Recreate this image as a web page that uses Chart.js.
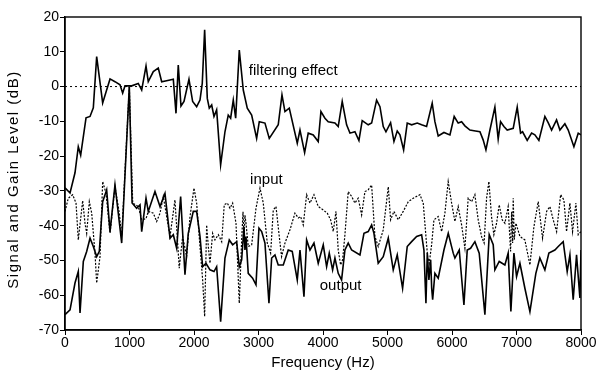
<!DOCTYPE html>
<html>
<head>
<meta charset="utf-8">
<script src="https://cdn.jsdelivr.net/npm/chart.js@4/dist/chart.umd.min.js"></script>
<style>
  body { margin: 0; background: #fff; }
  #chart { display: block; }
</style>
</head>
<body>
<canvas id="chart" width="603" height="374"></canvas>
<script>
// filtering effect (gain, dB) vs frequency (Hz)
const filterFreq = [0, 78, 155, 206, 243, 326, 388, 439, 491, 584, 698, 775, 853, 894, 930, 977, 1034, 1136, 1189, 1256, 1291, 1369, 1446, 1499, 1628, 1679, 1721, 1756, 1798, 1845, 1922, 1979, 2041, 2093, 2128, 2165, 2206, 2237, 2274, 2310, 2351, 2413, 2480, 2531, 2568, 2609, 2646, 2702, 2764, 2826, 2894, 2971, 3012, 3100, 3167, 3306, 3364, 3410, 3477, 3601, 3643, 3715, 3771, 3849, 3926, 3968, 4030, 4081, 4185, 4236, 4298, 4366, 4418, 4495, 4557, 4608, 4701, 4754, 4831, 4883, 4934, 4976, 5048, 5100, 5151, 5193, 5250, 5306, 5374, 5461, 5529, 5606, 5693, 5735, 5786, 5875, 5968, 6034, 6096, 6149, 6200, 6278, 6340, 6433, 6484, 6526, 6588, 6665, 6716, 6753, 6805, 6856, 6949, 7011, 7063, 7094, 7166, 7234, 7285, 7347, 7440, 7491, 7544, 7621, 7673, 7750, 7802, 7890, 7957, 8000];
const filterGain = [-29.1, -30.6, -24.8, -17.3, -19.7, -9.0, -8.6, -6.1, 8.6, -4.7, 2.2, 1.4, 0.5, -1.9, 0.2, 0.2, 0.2, 0.9, -1.0, 5.9, 1.4, 4.3, 5.3, 1.4, 1.9, 2.1, -7.7, 6.2, -5.6, -4.3, 2.1, -4.3, -5.8, -3.9, 0.9, 16.3, -3.4, -6.2, -5.3, -8.6, -6.7, -22.5, -13.0, -8.2, -9.1, -3.9, -9.1, 10.5, -1.0, -6.2, -8.2, -14.9, -10.1, -10.5, -14.9, -11.0, -2.4, -7.2, -6.2, -16.3, -12.5, -19.0, -13.4, -13.9, -15.8, -7.2, -9.1, -10.1, -10.5, -11.5, -4.3, -11.0, -13.4, -13.0, -15.5, -9.8, -11.0, -10.5, -3.9, -5.8, -11.5, -13.0, -10.4, -15.8, -12.8, -13.9, -18.2, -10.5, -11.0, -10.5, -11.0, -11.5, -4.8, -10.1, -14.2, -13.2, -13.9, -8.6, -10.5, -10.1, -11.3, -12.5, -12.7, -13.0, -15.4, -18.2, -12.5, -5.9, -15.1, -10.1, -11.5, -12.5, -12.0, -5.9, -13.4, -13.0, -15.5, -13.4, -13.9, -15.5, -8.6, -10.4, -12.5, -9.6, -12.5, -10.7, -12.5, -17.3, -13.4, -13.9];

// input signal level (dB)
const inputFreq = [0, 51, 119, 171, 206, 274, 310, 336, 377, 414, 465, 491, 543, 584, 636, 698, 775, 842, 879, 997, 1050, 1136, 1189, 1256, 1291, 1369, 1421, 1473, 1524, 1628, 1705, 1740, 1771, 1824, 1886, 1938, 2000, 2041, 2093, 2134, 2165, 2196, 2222, 2248, 2289, 2325, 2377, 2429, 2469, 2516, 2558, 2599, 2651, 2702, 2739, 2760, 2775, 2790, 2806, 2841, 2894, 2961, 3023, 3074, 3136, 3188, 3229, 3271, 3322, 3358, 3410, 3488, 3565, 3617, 3653, 3694, 3746, 3798, 3860, 3926, 4004, 4066, 4118, 4159, 4201, 4236, 4273, 4304, 4340, 4391, 4444, 4495, 4546, 4599, 4650, 4701, 4754, 4805, 4856, 4934, 5012, 5048, 5100, 5166, 5244, 5322, 5400, 5503, 5554, 5596, 5622, 5647, 5684, 5720, 5786, 5839, 5890, 5941, 5994, 6045, 6096, 6149, 6200, 6251, 6304, 6355, 6406, 6458, 6498, 6536, 6572, 6613, 6649, 6691, 6732, 6778, 6820, 6871, 6908, 6925, 6940, 6949, 6965, 6991, 7053, 7130, 7208, 7270, 7337, 7404, 7467, 7518, 7569, 7622, 7684, 7735, 7776, 7828, 7869, 7921, 7957, 8000];
const inputLevel = [-35.9, -32.1, -31.1, -33.5, -44.1, -32.8, -39.3, -42.2, -33.1, -36.4, -47.9, -56.5, -48.9, -27.3, -30.7, -42.2, -28.8, -36.4, -43.1, 0, -33.5, -34.5, -38.3, -38.0, -35.9, -36.4, -38.8, -36.4, -31.6, -43.1, -32.6, -43.1, -52.2, -43.1, -48.9, -37.4, -29.2, -33.5, -46.0, -55.6, -66.1, -39.8, -46.0, -50.8, -42.2, -44.1, -42.6, -44.6, -34.0, -33.5, -35.0, -33.5, -39.3, -62.3, -44.1, -36.0, -44.0, -37.0, -39.3, -46.0, -45.5, -35.0, -29.2, -33.5, -45.0, -47.9, -35.5, -34.5, -43.1, -48.9, -45.0, -41.2, -36.4, -37.8, -37.4, -39.8, -31.1, -33.5, -31.1, -34.5, -35.5, -36.4, -38.3, -41.7, -35.9, -47.0, -51.3, -49.8, -42.6, -30.2, -31.6, -33.5, -32.1, -36.9, -30.2, -29.7, -28.3, -43.1, -46.0, -41.2, -28.8, -38.3, -35.9, -38.3, -35.9, -33.1, -32.1, -31.1, -33.5, -43.1, -48.9, -50.8, -45.5, -38.3, -37.4, -41.7, -36.4, -27.3, -33.5, -38.8, -34.5, -39.8, -46.5, -32.1, -33.1, -31.1, -38.3, -43.1, -45.0, -32.1, -27.3, -37.4, -42.6, -39.3, -34.0, -38.3, -39.3, -34.5, -47.4, -36.0, -45.0, -32.1, -44.0, -39.3, -43.1, -44.1, -51.3, -40.3, -33.1, -43.6, -35.9, -34.5, -38.3, -41.7, -31.1, -32.6, -41.7, -33.5, -41.7, -33.5, -42.6, -41.7];

// output signal level (dB)
const outputFreq = [0, 78, 155, 206, 233, 284, 336, 388, 439, 491, 532, 584, 646, 698, 775, 826, 879, 997, 1040, 1111, 1163, 1189, 1256, 1291, 1395, 1473, 1550, 1628, 1679, 1731, 1793, 1860, 1911, 1989, 2041, 2093, 2134, 2186, 2248, 2310, 2351, 2413, 2480, 2547, 2599, 2661, 2702, 2739, 2775, 2790, 2806, 2841, 2909, 2961, 3007, 3049, 3100, 3162, 3204, 3255, 3306, 3384, 3461, 3523, 3601, 3643, 3705, 3746, 3798, 3860, 3926, 4004, 4056, 4097, 4149, 4185, 4236, 4288, 4340, 4391, 4444, 4573, 4635, 4701, 4754, 4790, 4856, 4934, 5012, 5089, 5151, 5234, 5306, 5374, 5452, 5529, 5565, 5596, 5617, 5642, 5669, 5685, 5700, 5735, 5786, 5875, 5942, 6019, 6045, 6112, 6185, 6236, 6288, 6355, 6422, 6510, 6577, 6639, 6665, 6732, 6820, 6871, 6913, 6960, 7001, 7053, 7130, 7208, 7300, 7362, 7440, 7502, 7595, 7647, 7724, 7786, 7828, 7879, 7931, 7983, 8000];
const outputLevel = [-65.6, -64.2, -56.5, -53.2, -65.1, -50.3, -47.4, -43.6, -46.0, -48.9, -47.4, -33.1, -29.7, -41.7, -28.3, -36.4, -45.0, 0, -33.5, -35.0, -34.0, -41.7, -32.1, -35.9, -30.2, -34.5, -30.7, -43.6, -42.6, -46.5, -31.6, -54.1, -42.2, -35.9, -35.9, -43.1, -51.8, -50.8, -52.7, -53.2, -51.8, -67.6, -49.3, -44.1, -45.5, -44.6, -51.8, -49.8, -40.3, -47.0, -43.1, -53.7, -55.1, -57.0, -40.7, -41.7, -45.0, -62.3, -49.3, -48.4, -51.3, -51.3, -47.0, -47.4, -55.6, -47.0, -60.4, -44.1, -47.0, -45.0, -50.8, -45.5, -51.8, -47.9, -52.7, -49.3, -53.7, -55.6, -47.0, -45.0, -47.0, -48.4, -42.2, -41.7, -39.8, -42.2, -50.8, -48.9, -43.6, -52.7, -48.4, -58.0, -46.0, -44.6, -43.1, -42.6, -47.0, -62.3, -47.9, -55.6, -49.8, -58.0, -61.3, -53.7, -55.1, -47.0, -42.2, -47.9, -49.3, -47.0, -62.8, -47.0, -46.5, -44.6, -47.9, -65.6, -42.6, -45.5, -52.7, -50.3, -51.3, -47.9, -64.7, -47.9, -54.6, -50.8, -58.0, -64.7, -53.7, -49.3, -52.7, -47.9, -47.0, -46.0, -44.6, -53.2, -48.4, -61.3, -48.4, -60.8, -47.0];

const zeroFreq = [0, 8000];
const zeroGain = [0, 0];

const xTicks = [0, 1000, 2000, 3000, 4000, 5000, 6000, 7000, 8000];
const yTicks = [20, 10, 0, -10, -20, -30, -40, -50, -60, -70];

const curveLabels = [
  { text: 'filtering effect', x: 2850, y: 4.5 },
  { text: 'input', x: 2870, y: -26.8 },
  { text: 'output', x: 3950, y: -57.3 },
];

const yTitle = 'Signal and Gain Level (dB)';

function toPoints(xs, ys) {
  return xs.map((x, i) => ({ x: x, y: ys[i] }));
}

const FONT = 'Liberation Sans, Arial, sans-serif';

// box round the plot, curve labels and the spaced-out y title
const framePlugin = {
  id: 'frame',
  afterDatasetsDraw(chart) {
    const { ctx, chartArea, scales } = chart;
    ctx.save();
    ctx.strokeStyle = '#000';
    ctx.lineWidth = 1.4;
    ctx.strokeRect(chartArea.left, chartArea.top, chartArea.right - chartArea.left, chartArea.bottom - chartArea.top);
    ctx.fillStyle = '#000';
    ctx.font = '15px ' + FONT;
    ctx.textBaseline = 'middle';
    curveLabels.forEach(l => {
      ctx.fillText(l.text, scales.x.getPixelForValue(l.x), scales.y.getPixelForValue(l.y));
    });

    ctx.translate(14, (chartArea.top + chartArea.bottom) / 2 + 6);
    ctx.rotate(-Math.PI / 2);
    ctx.textAlign = 'center';
    ctx.font = '15px ' + FONT;
    if ('letterSpacing' in ctx) ctx.letterSpacing = '1.5px';
    ctx.fillText(yTitle, 0, 0);
    ctx.restore();
  },
};

const ctx = document.getElementById('chart').getContext('2d');
const myChart = new Chart(ctx, {
  type: 'line',
  data: {
    datasets: [
      {
        label: 'zero',
        data: toPoints(zeroFreq, zeroGain),
        borderColor: '#000',
        borderWidth: 1,
        borderDash: [2, 3],
        pointRadius: 0,
      },
      {
        label: 'input',
        data: toPoints(inputFreq, inputLevel),
        borderColor: '#000',
        borderWidth: 1.2,
        borderDash: [2, 1.5],
        pointRadius: 0,
      },
      {
        label: 'output',
        data: toPoints(outputFreq, outputLevel),
        borderColor: '#000',
        borderWidth: 1.6,
        pointRadius: 0,
      },
      {
        label: 'filtering effect',
        data: toPoints(filterFreq, filterGain),
        borderColor: '#000',
        borderWidth: 1.6,
        pointRadius: 0,
      },
    ],
  },
  options: {
    responsive: false,
    animation: false,
    layout: { padding: { top: 17, right: 22, left: 0, bottom: 0 } },
    plugins: {
      legend: { display: false },
      tooltip: { enabled: false },
    },
    scales: {
      x: {
        type: 'linear',
        min: 0,
        max: 8000,
        afterBuildTicks: axis => { axis.ticks = xTicks.map(v => ({ value: v })); },
        afterFit: axis => { axis.height = 44; },
        grid: { display: true, drawOnChartArea: false, drawTicks: true, tickLength: 5, color: '#000' },
        border: { display: true, color: '#000', width: 1.4 },
        ticks: {
          color: '#000',
          font: { family: FONT, size: 14 },
          padding: 0,
          maxRotation: 0,
          callback: v => String(v),
        },
        title: {
          display: true,
          text: 'Frequency (Hz)',
          color: '#000',
          font: { family: FONT, size: 15 },
          padding: { top: 0, bottom: 2 },
        },
      },
      y: {
        type: 'linear',
        min: -70,
        max: 20,
        afterBuildTicks: axis => { axis.ticks = yTicks.map(v => ({ value: v })); },
        afterFit: axis => { axis.width = 65; },
        grid: { display: true, drawOnChartArea: false, drawTicks: true, tickLength: 5, color: '#000' },
        border: { display: true, color: '#000', width: 1.4 },
        ticks: {
          color: '#000',
          font: { family: FONT, size: 14 },
          padding: 1,
          callback: v => String(v),
        },
        title: { display: false },
      },
    },
  },
  plugins: [framePlugin],
});
</script>
</body>
</html>
